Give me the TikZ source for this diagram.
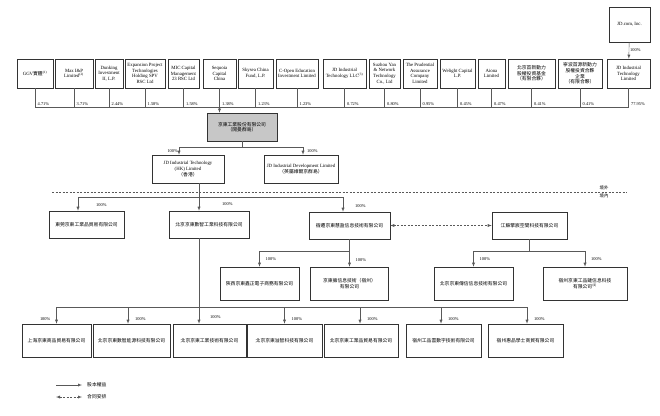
\documentclass[tikz,border=0pt]{standalone}
\usepackage{fontspec}
\setmainfont{Liberation Serif}
\newfontfamily\cjk{Noto Sans CJK TC}
\newcommand{\zh}[1]{{\cjk #1}}

\begin{document}
\begin{tikzpicture}[x=1pt,y=-1pt, font=\fontsize{4.8}{5.6}\selectfont,
    box/.style={draw=black!80,line width=0.55pt,align=center,inner sep=0.5pt},
    zh/.style={box,font=\fontsize{4.8}{5.6}\selectfont\cjk},
    pct/.style={font=\fontsize{4.4}{5}\selectfont,inner sep=1pt},
    link/.style={draw=black!65,line width=0.4pt},
    arr/.style={link,-latex},
    ctr/.style={link,dash pattern=on 2pt off 1.5pt},
  ]
  \useasboundingbox (0,0) rectangle (660,415);

  % shareholders
  \foreach \n/\x/\w/\t in {ggv/35/36/{GGV\zh{實體}\textsuperscript{(1)}}, maxip/74/38/{Max I\&P\\Limited\textsuperscript{(2)}},
      dunk/109/28/{Dunking\\Investment\\II, L.P.}, expn/145/40/{Expansion Project\\Technologies\\Holding SPV\\RSC Ltd},
      mic/183.5/31/{MIC Capital\\Management\\23 RSC Ltd}, seq/219.5/33/{Sequoia\\Capital\\China},
      sky/255.5/35/{Skysea China\\Fund, L.P.}, copen/297/42/{C-Open Education\\Investment Limited},
      jdllc/344.5/43/{JD Industrial\\Technology LLC\textsuperscript{(3)}}, suz/384.5/31/{Suzhou Yan\\\& Network\\Technology\\Co., Ltd},
      pru/420/34/{The Prudential\\Assurance\\Company\\Limited}, weli/457.5/35/{Welight Capital\\L.P.},
      aiona/491.5/27/{Aiona\\Limited}, bjsd/531.5/47/{\zh{北京首新動力}\\\zh{股權投資基金}\\\zh{（有限合夥）}},
      nbsd/580/44/{\zh{寧波首源新動力}\\\zh{股權投資合夥}\\\zh{企業}\\\zh{（有限合夥）}},
      jdit/628.5/43/{JD Industrial\\Technology\\Limited}}
    \node[box,minimum width=\w,minimum height=29] (\n) at (\x,73.5) {\t};

  \node[box,minimum width=41,minimum height=35] (jdcom) at (629.5,24.5) {JD.com, Inc.};
  \draw[arr] (jdcom) -- (jdit) node[pct,midway,right] (p-jdcom) {100\%};

  \coordinate (bus) at (0,107);
  \foreach \n/\p in {ggv/4.71,maxip/3.71,dunk/2.44,expn/1.58,mic/1.58,seq/1.38,sky/1.23,copen/1.23,
      jdllc/0.72,suz/0.80,pru/0.95,weli/0.45,aiona/0.47,bjsd/0.41,nbsd/0.41,jdit/77.95} {
    \draw[link] (\n.south) -- (\n.south |- bus);
    \node[pct,anchor=south west,xshift=1.5pt] (p-\n) at (\n.south |- bus) {\p\%};
  }
  \draw[link] (ggv.south |- bus) -- (jdit.south |- bus);

  % listing company
  \node[zh,fill=black!22,minimum width=70,minimum height=28] (jdi) at (242,127) {京東工業股份有限公司\\（開曼群島）};
  \draw[arr] (seq.south |- bus) -- (seq.south |- jdi.north);

  \node[box,minimum width=72,minimum height=28] (hk) at (188,169) {JD Industrial Technology\\(HK) Limited\\\zh{（香港）}};
  \node[box,minimum width=74,minimum height=28] (bvi) at (301,169) {JD Industrial Development Limited\\\zh{（英屬維爾京群島）}};
  \coordinate (j1) at (242,147);
  \draw[link] (jdi.south) -- (j1);
  \draw[arr] (j1) -| ([xshift=-9pt]hk.north) node[pct,pos=.75,left] (p-hk) {100\%};
  \draw[arr] (j1) -| ([xshift=2pt]bvi.north) node[pct,pos=.75,right=3pt] (p-bvi) {100\%};

  % offshore / onshore
  \coordinate (b-l) at (52,192);
  \coordinate (b-r) at (627,192);
  \draw[ctr] (b-l) -- (b-r);
  \node[pct,anchor=south] (out) at (604,191) {\cjk 境外};
  \node[pct,anchor=north] (in) at (604,193) {\cjk 境內};

  \node[zh,minimum width=75,minimum height=27] (dg) at (86.5,224.5) {東莞京東工業品貿易有限公司};
  \node[zh,minimum width=80,minimum height=27] (szh) at (209,224.5) {北京京東數智工業科技有限公司};
  \node[zh,minimum width=81,minimum height=27] (sq) at (349.5,225.5) {宿遷京東慧盈信息技術有限公司};
  \node[zh,minimum width=75,minimum height=27] (js) at (529.5,225.5) {江蘇擎宸空間科技有限公司};

  \coordinate (h1) at (199,197);
  \draw[link] (hk.south -| h1) -- (h1);
  \draw[arr] (h1) -- (h1 |- szh.north) node[pct,pos=.55,right=22pt] (p-szh) {100\%};
  \draw[arr] (h1) -| ([xshift=-8.5pt]dg.north) node[pct,pos=.8,right=17pt] (p-dg) {100\%};
  \draw[arr] (h1) -| ([xshift=-6.5pt]sq.north) node[pct,pos=.8,right=11pt] (p-sq) {100\%};
  \draw[ctr,latex-latex] (sq) -- (js);

  \node[zh,minimum width=79,minimum height=33] (sx) at (259.5,283.5) {陝西京東鑫正電子商務有限公司};
  \node[zh,minimum width=78,minimum height=33] (sxz) at (349.5,283.5) {京東擁信息技術（宿州）\\有限公司};
  \node[zh,minimum width=79,minimum height=33] (bjcx) at (473.5,283.5) {北京京東傳信信息技術有限公司};
  \node[zh,minimum width=84,minimum height=33] (szgp) at (585,283.5) {宿州京東工品鏈信息科技\\有限公司\textsuperscript{(4)}};

  \coordinate (s1) at (349.5,251);
  \draw[arr] (sq.south) -- (sxz.north) node[pct,pos=.75,right=5pt] (p-sxz) {100\%};
  \draw[arr] (s1) -| (sx.north) node[pct,pos=.75,right=5pt] (p-sx) {100\%};

  \coordinate (j2) at (529.5,251);
  \draw[link] (js.south) -- (j2);
  \draw[arr] (j2) -| (bjcx.north) node[pct,pos=.75,right=5pt] (p-bjcx) {100\%};
  \draw[arr] (j2) -| (szgp.north) node[pct,pos=.75,right=5pt] (p-szgp) {100\%};

  % onshore subsidiaries
  \foreach \n/\x/\w/\t in {b1/56.5/69/上海京東商品貿易有限公司, b2/131.5/77/北京京東數智能源科技有限公司,
      b3/209.5/73/北京京東工業技術有限公司, b4/284.5/75/北京京東溢智科技有限公司,
      b5/361/74/北京京東工業品貿易有限公司, b6/443.5/75/宿州工品雲數字技術有限公司,
      b7/525.5/75/宿州惠品學士商貿有限公司}
    \node[zh,minimum width=\w,minimum height=33] (\n) at (\x,340.5) {\t};

  \coordinate (h2) at (199,307);
  \draw[arr] (szh.south -| h2) -- (h2 |- b3.north) node[pct,pos=.92,right=10pt] (p-b3) {100\%};
  \draw[arr] (h2) -| (b1.north) node[pct,pos=.85,left=5pt] (p-b1) {100\%};
  \foreach \n/\dx in {b2/-3.5,b4/0,b5/-1,b6/-2.5,b7/1.5}
    \draw[arr] (h2) -| ([xshift=\dx pt]\n.north) node[pct,pos=.85,right=6pt] (p-\n) {100\%};

  % legend
  \coordinate (l1) at (56,385);
  \coordinate (l2) at (56,397);
  \node[pct,anchor=west,font=\fontsize{4.8}{5.6}\selectfont\cjk] (lg1) at (86,385) {股本權益};
  \node[pct,anchor=west,font=\fontsize{4.8}{5.6}\selectfont\cjk] (lg2) at (86,397) {合同安排};
  \draw[arr,shorten >=4pt] (l1) -- (lg1);
  \draw[ctr,latex-latex,shorten >=4pt] (l2) -- (lg2);
\end{tikzpicture}
\end{document}
